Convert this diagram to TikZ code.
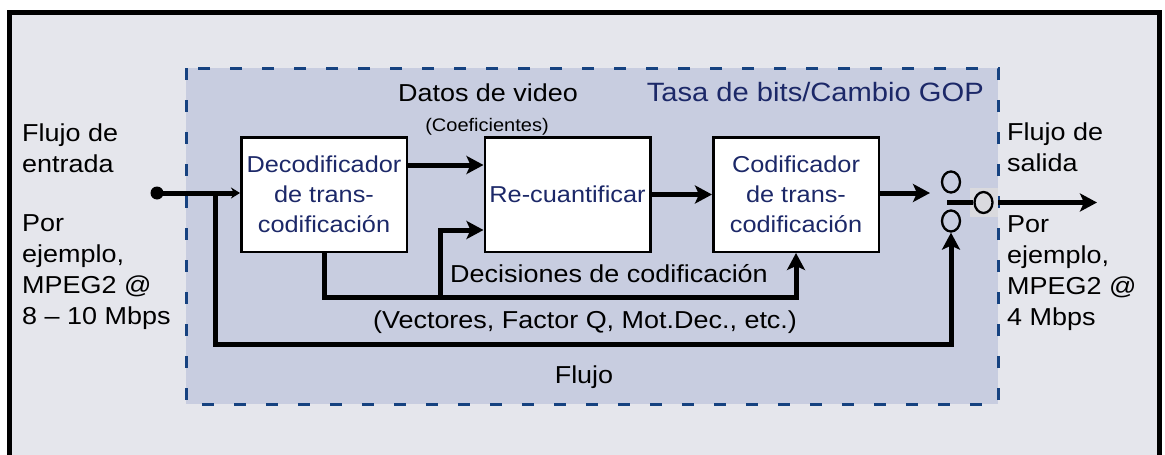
\documentclass[tikz,border=0pt]{standalone}
\usepackage{fontspec}
\setmainfont{Liberation Sans}[FakeStretch=1.1]
\usetikzlibrary{arrows.meta,positioning,shapes.geometric}

\definecolor{paper}{RGB}{229,230,236}
\definecolor{zone}{RGB}{200,205,224}
\definecolor{zoneline}{RGB}{22,66,128}
\definecolor{navy}{RGB}{28,40,104}
\definecolor{portbg}{RGB}{218,218,222}

\tikzset{
  block/.style={draw,line width=2.5pt,fill=white,text=navy,align=center,
    minimum width=165.5pt,minimum height=114.5pt,inner sep=0pt,
    font=\fontsize{23}{30}\selectfont},
  txt/.style={inner sep=0pt,font=\fontsize{24.5}{31}\selectfont},
  note/.style={txt,align=left,anchor=base west},
  flow/.style={->,line width=5pt},
  feed/.style={-{Stealth[length=9pt,width=11pt]},line width=5pt},
  pole/.style={draw,ellipse,line width=2.3pt,minimum width=18pt,minimum height=21pt,inner sep=0pt}
}

\begin{document}
\begin{tikzpicture}[x=1pt,y=-1pt,>={Stealth[length=17pt,width=18pt,inset=4pt]}]
\path[use as bounding box] (0,0) rectangle (1165,455);
\clip (0,0) rectangle (1165,455);
\fill[paper] (9.5,12.5) rectangle (1159.5,470);
\draw[line width=5pt] (9.5,470) |- (1159.5,12.5) -- (1159.5,470);
\filldraw[fill=zone,draw=zoneline,line width=3pt,dash pattern=on 12pt off 20pt] (186,68) rectangle (998,404);

\node[block] (dec) at (324,194.5) {Decodificador\\de trans-\\codificación};
\node[block,right=75.5pt of dec] (req) {Re-cuantificar};
\node[block,right=60.5pt of req] (cod) {Codificador\\de trans-\\codificación};

\node[txt,anchor=base] (datos) at (488,101) {Datos de video};
\node[inner sep=0pt,font=\fontsize{18.2}{22}\selectfont,anchor=base] (coef) at (487,131) {(Coeficientes)};
\node[txt,text=navy,anchor=base east,font=\fontsize{26.5}{31}\selectfont] (gop) at (984,101) {Tasa de bits/Cambio GOP};
\node[txt,anchor=base] (decis) at (609,282) {Decisiones de codificación};
\node[txt,anchor=base] (vect) at (585,328) {(Vectores, Factor Q, Mot.Dec., etc.)};
\node[txt,anchor=base] (flujo) at (584,383) {Flujo};

\node[note] (inlbl) at (22,172) {Flujo de\\entrada};
\node[note] (inex) at (22,324) {Por\\ejemplo,\\MPEG2 @\\8 – 10 Mbps};
\node[note] (outlbl) at (1007,171) {Flujo de\\salida};
\node[note] (outex) at (1007,325) {Por\\ejemplo,\\MPEG2 @\\4 Mbps};

\node[pole] (up) at (951,182) {};
\node[pole] (dn) at (951,221) {};
\node[fill=portbg,minimum width=28pt,minimum height=29pt,inner sep=0pt] (port) at (984,202.5) {};
\node[pole] (out) at (983.5,202.5) {};

\coordinate (src) at (157,193);
\coordinate (tap) at (215,193);
\coordinate (fl) at (215,344);
\coordinate (br) at (440,297);
\coordinate (sw) at (930,193);
\coordinate (arm) at (947,202.5);
\coordinate (sink) at (1097,202.5);

\fill (src) circle (6.5);
\draw[feed] (src) -- (src -| dec.west);
\draw[flow] (tap) -- (fl) -| (dn.south);
\draw[flow] ([yshift=29.5pt]dec.east) -- ([yshift=29.5pt]req.west);
\draw[flow] (dec.south) |- (br) -| (cod.south);
\draw[flow] (br) |- ([yshift=-35.5pt]req.west);
\draw[flow] (req) -- (cod);
\draw[flow] (cod.east |- sw) -- (sw);
\draw[line width=5pt] (arm) -- (out.west);
\draw[flow] (port.east) -- (sink);
\end{tikzpicture}
\end{document}
